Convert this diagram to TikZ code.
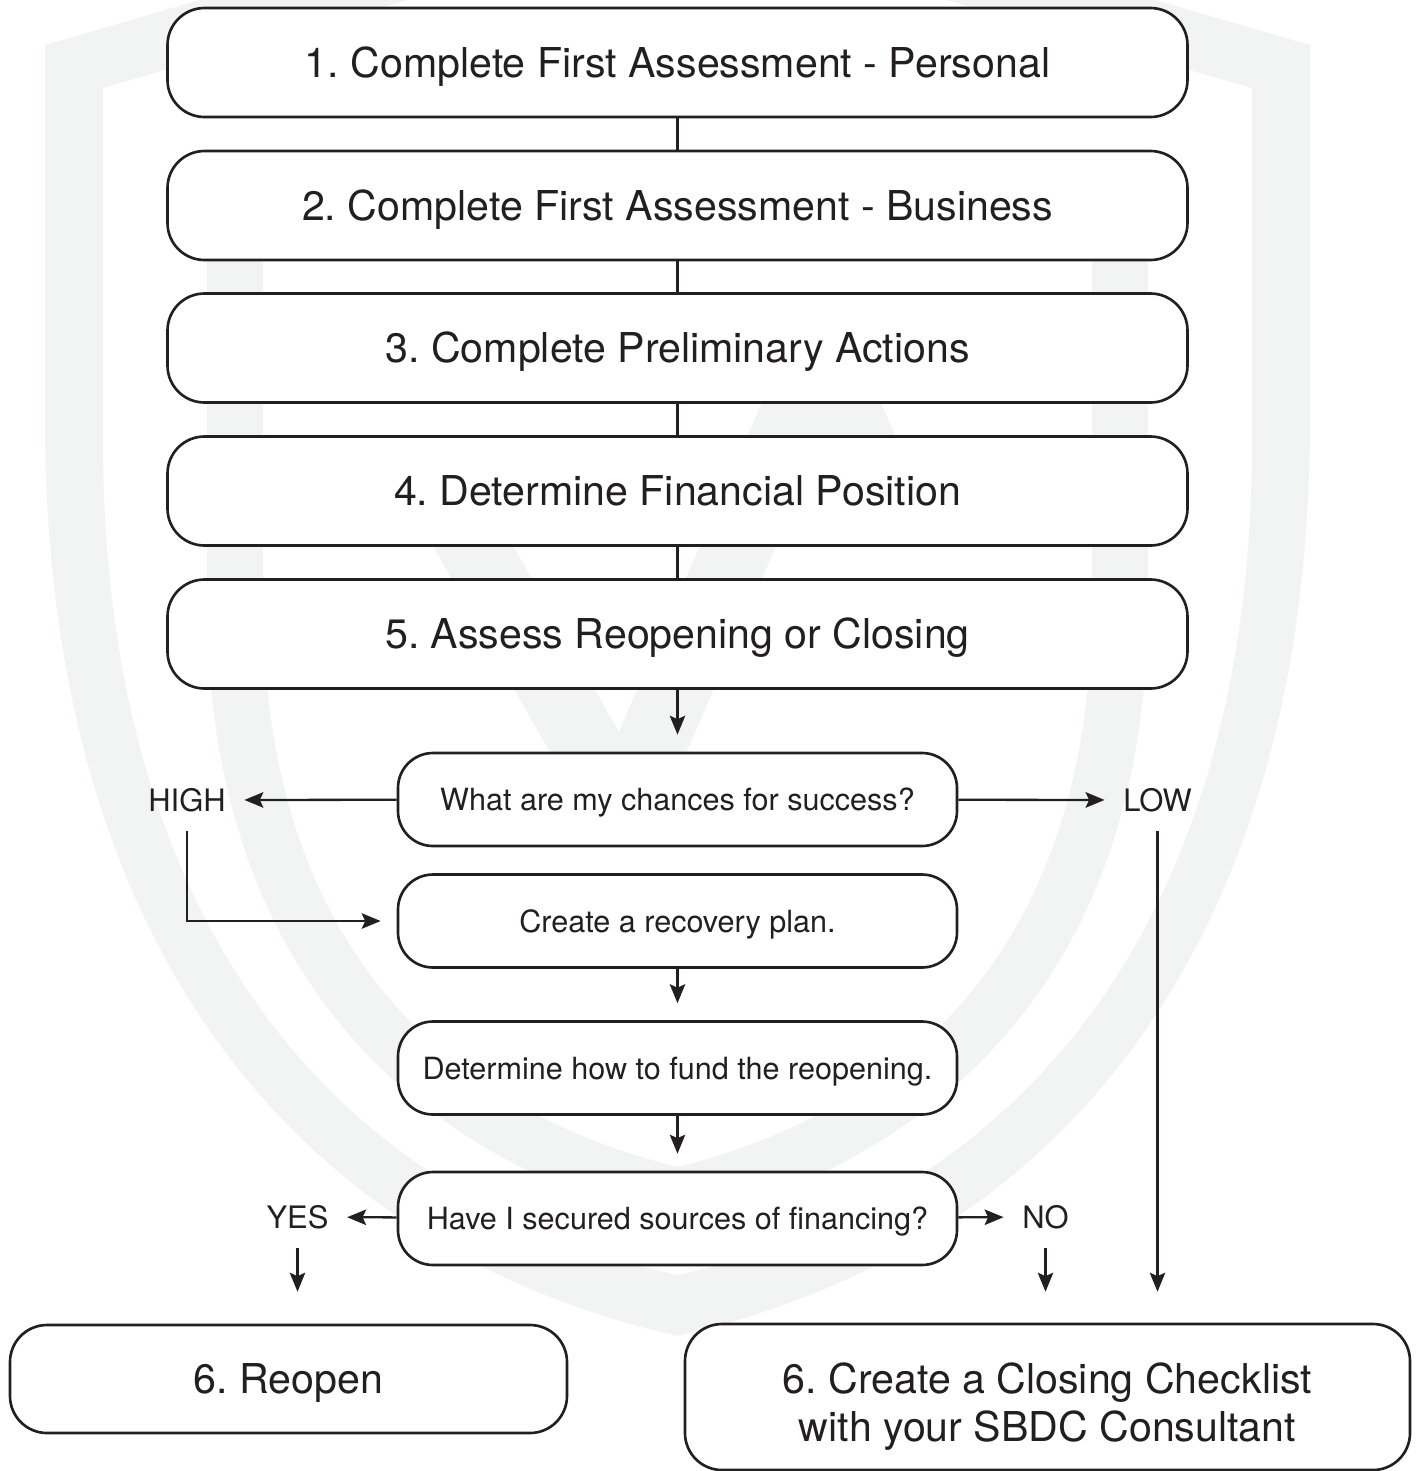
\documentclass[tikz,border=0pt]{standalone}
\usepackage{fontspec}
\setmainfont{TeX Gyre Heros}
\usepackage{tikz}
\usetikzlibrary{arrows.meta,calc,positioning}
\definecolor{ink}{RGB}{35,31,32}
\definecolor{wm}{RGB}{242,244,243}
\frenchspacing

\begin{document}
\begin{tikzpicture}[
  blk/.style={draw=ink, line width=0.75pt, rounded corners=0.37cm, fill=white, text=ink,
              minimum width=10.2cm, minimum height=1.09cm, align=center,
              text height=8.4pt, text depth=0pt,
              font=\fontsize{11.7}{13.7}\selectfont},
  qbox/.style={blk, minimum width=5.59cm, minimum height=0.93cm, rounded corners=0.35cm,
               text height=6.3pt, font=\fontsize{8.7}{10.4}\selectfont},
  lbl/.style={inner sep=1.8mm, text=ink, font=\fontsize{8.8}{10.5}\selectfont},
  ln/.style={draw=ink, line width=0.65pt},
  pf/.style={ln, -{Stealth[length=5.4pt, width=4.4pt, inset=1pt]}}
]
\useasboundingbox (0,0) rectangle (14.18,-14.71);

% Wasserzeichen (Schild)
\begin{scope}
  \clip (0,0) rectangle (14.18,-14.71);
  \fill[wm, even odd rule]
    (6.775,1.39) -- (0.45,-0.45) -- (0.45,-4.2) .. controls (0.45,-9.5) and (3.0,-12.5) .. (6.775,-13.36)
      .. controls (10.55,-12.5) and (13.1,-9.5) .. (13.1,-4.2) -- (13.1,-0.45) -- cycle
    (6.775,0.78) -- (1.03,-0.88) -- (1.03,-4.4) .. controls (1.03,-9.3) and (3.4,-12.0) .. (6.775,-12.75)
      .. controls (10.15,-12.0) and (12.52,-9.3) .. (12.52,-4.4) -- (12.52,-0.88) -- cycle;
  \fill[wm, even odd rule]
    (6.775,-1.55) -- (2.07,-2.15) -- (2.07,-6.0) .. controls (2.07,-9.8) and (4.2,-11.6) .. (6.775,-12.25)
      .. controls (9.35,-11.6) and (11.48,-9.8) .. (11.48,-6.0) -- (11.48,-2.15) -- cycle
    (6.775,-1.9) -- (2.63,-2.5) -- (2.63,-6.0) .. controls (2.63,-9.5) and (4.5,-11.1) .. (6.775,-11.67)
      .. controls (9.05,-11.1) and (10.92,-9.5) .. (10.92,-6.0) -- (10.92,-2.5) -- cycle;
  \draw[wm, line width=0.7cm, line join=round] (4.3,-4.7) -- (6.23,-8.1) -- (8.21,-3.55) -- (8.95,-5.2);
\end{scope}

% Hauptschritte
\node[blk] (b1) at (6.775,-0.625) {1. Complete First Assessment - Personal};
\node[blk] (b2) at (6.775,-2.055) {2. Complete First Assessment - Business};
\node[blk] (b3) at (6.775,-3.48)  {3. Complete Preliminary Actions};
\node[blk] (b4) at (6.775,-4.91)  {4. Determine Financial Position};
\node[blk] (b5) at (6.775,-6.34)  {5. Assess Reopening or Closing};

\draw[ln] (b1) -- (b2);
\draw[ln] (b2) -- (b3);
\draw[ln] (b3) -- (b4);
\draw[ln] (b4) -- (b5);

% Fragen und Wiederaufbau
\node[qbox] (q1)   at (6.775,-7.995)  {What are my chances for success?};
\node[qbox] (plan) at (6.775,-9.21)   {Create a recovery plan.};
\node[qbox] (fund) at (6.775,-10.68)  {Determine how to fund the reopening.};
\node[qbox] (q2)   at (6.775,-12.185) {Have I secured sources of financing?};

\node[lbl] (high) at (1.87,-8.0)    {HIGH};
\node[lbl] (low)  at (11.575,-8.0)  {LOW};
\node[lbl] (yes)  at (2.975,-12.17) {YES};
\node[lbl] (no)   at (10.455,-12.17) {NO};

\draw[pf, shorten >=0.17cm] (b5) -- (q1);
\draw[pf] (q1) -- (high);
\draw[pf] (q1) -- (low);
\draw[pf, shorten >=0.16cm] (high) |- (plan);
\draw[pf, shorten >=0.17cm] (plan) -- (fund);
\draw[pf, shorten >=0.17cm] (fund) -- (q2);
\draw[pf] (q2) -- (yes);
\draw[pf] (q2) -- (no);

% Ergebnis
\node[blk, minimum width=5.57cm, minimum height=1.08cm] (reopen) at (2.885,-13.79) {6. Reopen};
\node[blk, minimum width=7.25cm, minimum height=1.46cm, text height=25.4pt] (close) at (10.475,-13.97)
  {6. Create a Closing Checklist\\with your SBDC Consultant};

\draw[pf, shorten >=0.32cm] (yes) -- (yes |- reopen.north);
\draw[pf, shorten >=0.31cm] (no) -- (no |- close.north);
\draw[pf, shorten >=0.31cm] (low) -- (low |- close.north);

\end{tikzpicture}
\end{document}
